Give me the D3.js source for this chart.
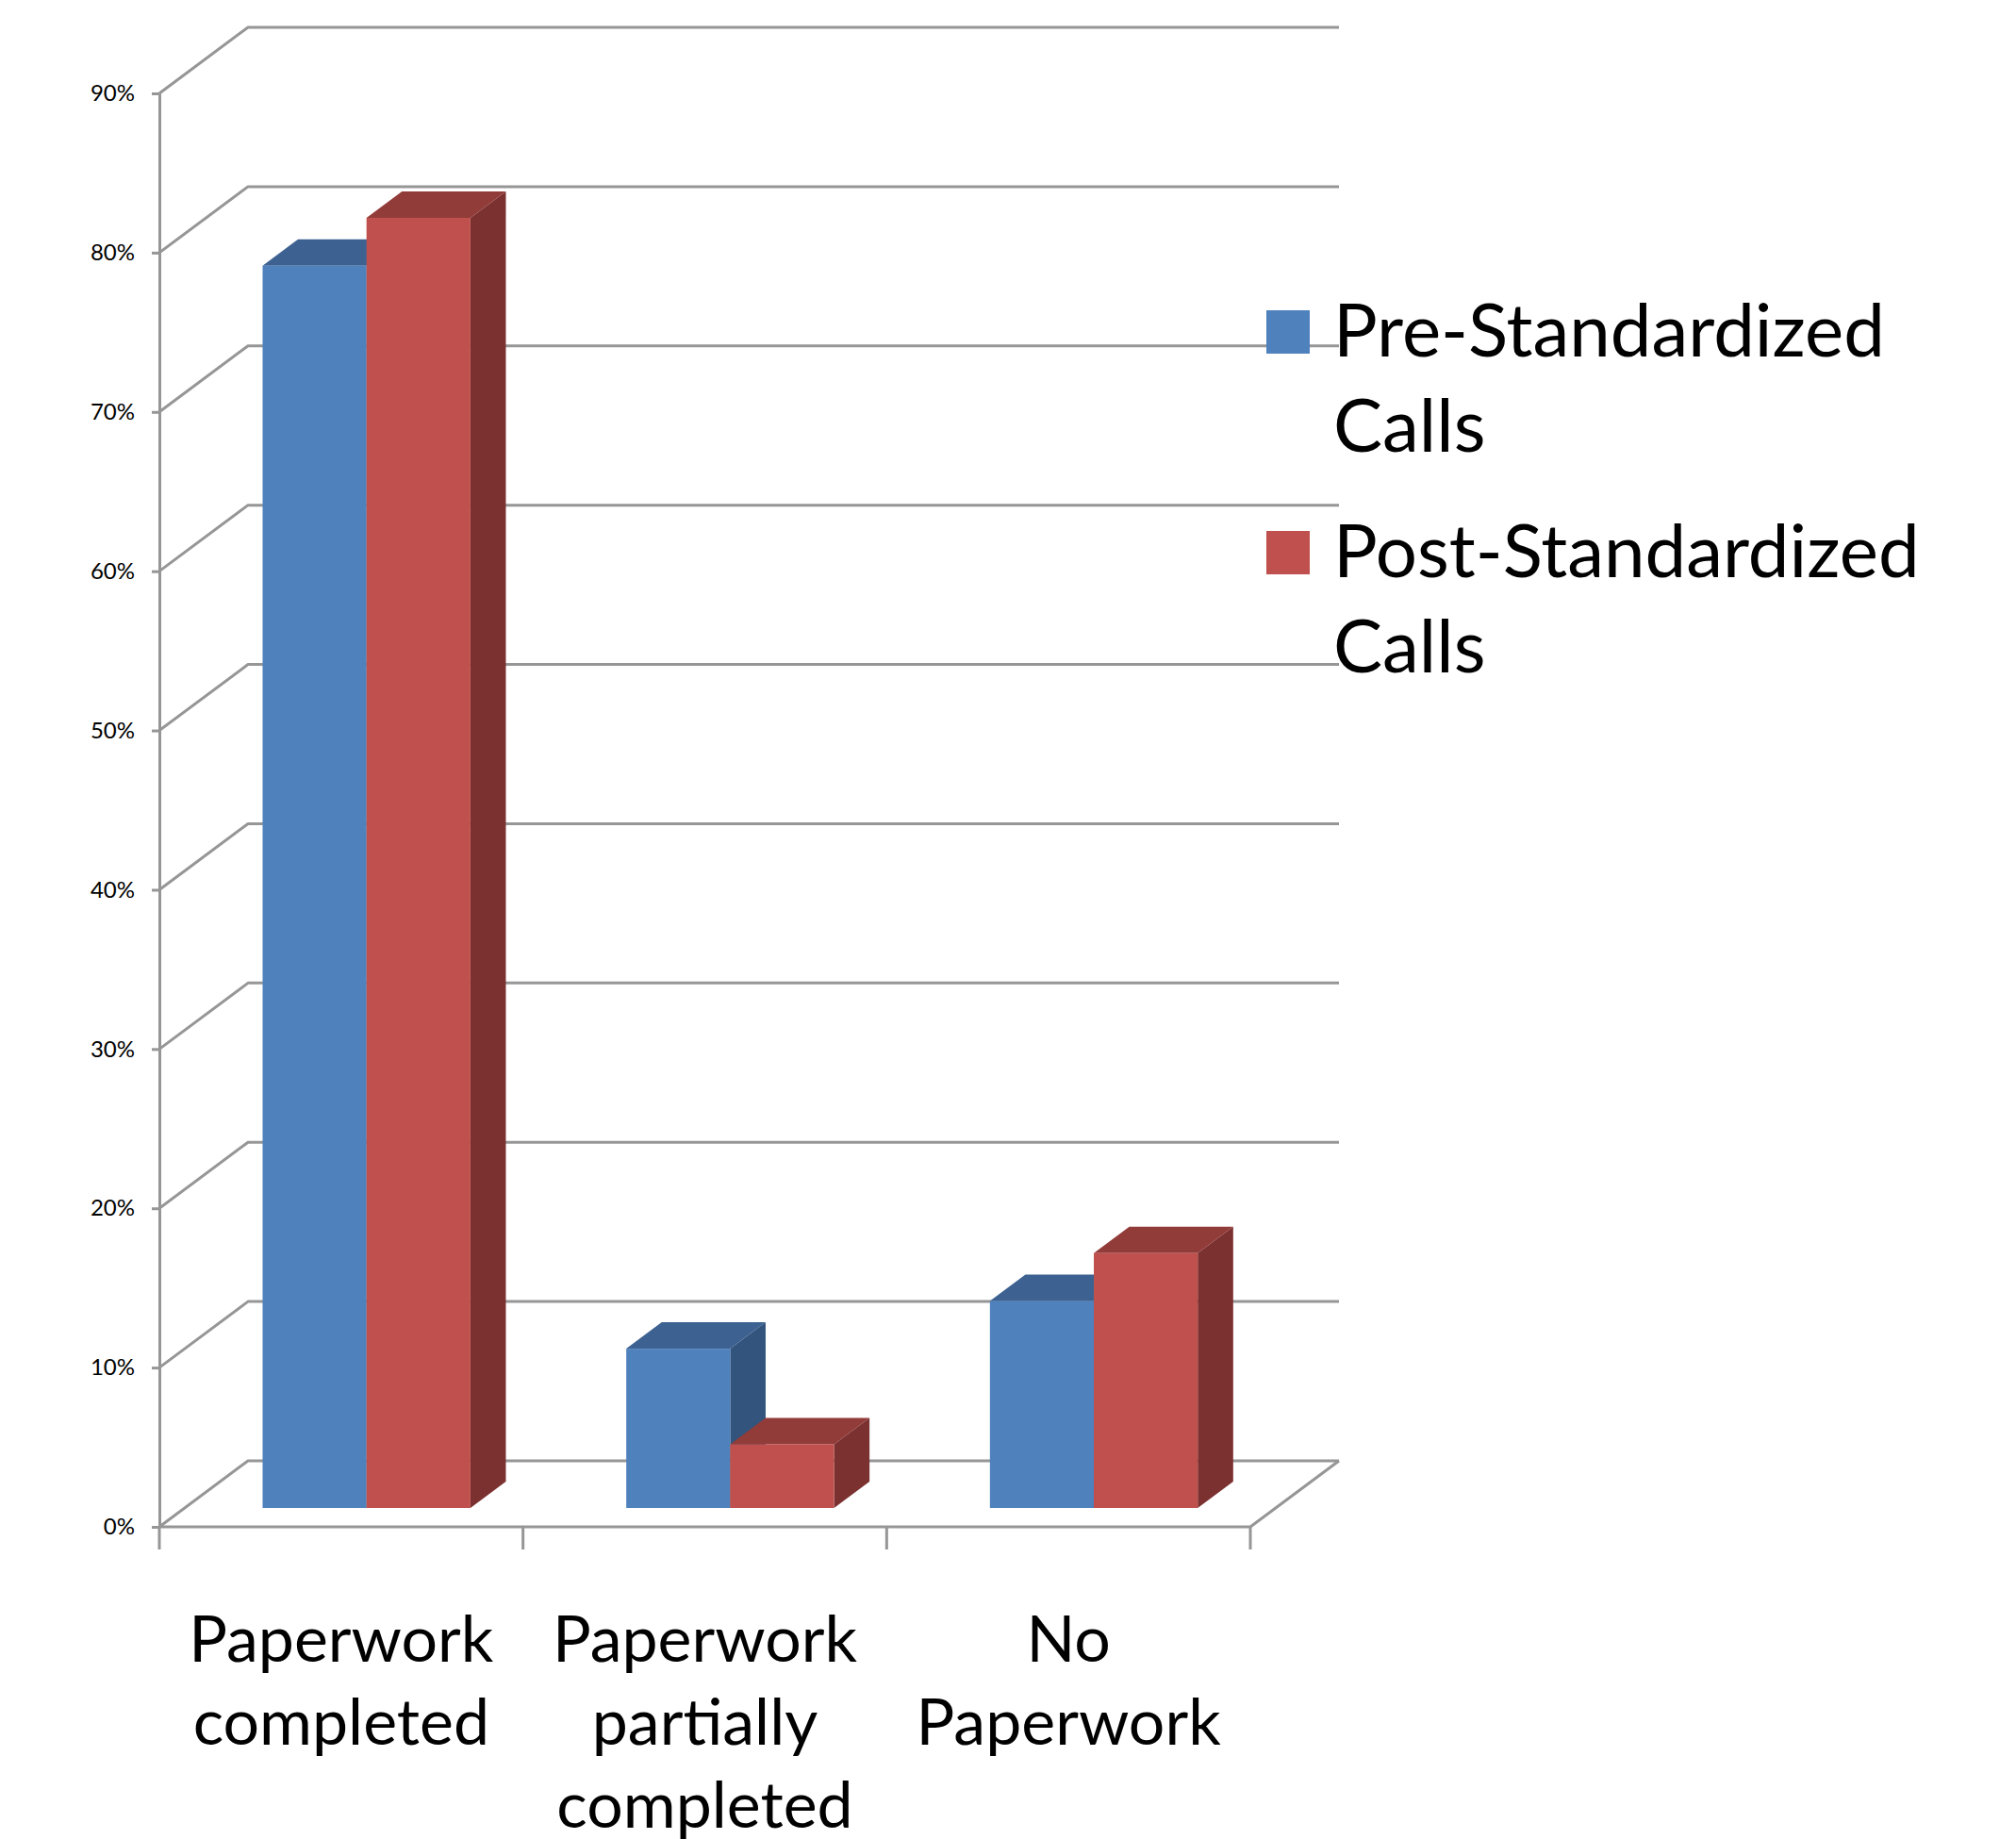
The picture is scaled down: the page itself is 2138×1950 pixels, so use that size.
<!DOCTYPE html>
<html>
<head>
<meta charset="utf-8">
<script src="https://cdn.jsdelivr.net/npm/d3@7"></script>
<style>
  html, body { margin: 0; padding: 0; background: #ffffff; }
  svg { display: block; }
  text { font-family: Lato, "Open Sans", "Noto Sans", sans-serif; fill: #000; }
</style>
</head>
<body>
<svg id="chart" width="2138" height="1950"></svg>
<script>
// Categories along the horizontal axis, with their wrapped label lines
const categories = ["Paperwork completed", "Paperwork partially completed", "No Paperwork"];
const categoryLines = [["Paperwork", "completed"], ["Paperwork", "partially", "completed"], ["No", "Paperwork"]];

// Series (percent of calls)
const seriesNames = ["Pre-Standardized Calls", "Post-Standardized Calls"];
const seriesLines = [["Pre-Standardized", "Calls"], ["Post-Standardized", "Calls"]];
const preValues = [78, 10, 13];
const postValues = [81, 4, 16];

// Value axis ticks
const yTickValues = [0, 10, 20, 30, 40, 50, 60, 70, 80, 90];
const yTickLabels = ["0%", "10%", "20%", "30%", "40%", "50%", "60%", "70%", "80%", "90%"];

const seriesValues = [preValues, postValues];
const faceColors = [
  { front: "#4f81bd", top: "#3d6291", side: "#32547d" },
  { front: "#c0504d", top: "#923c3a", side: "#7b3130" }
];
const gridColor = "#969696";

const svg = d3.select("#chart");

// Front plane of the 3-D box
const plot = { left: 169, right: 1326, bottom: 1619, top: 99 };
// Depth of the box (projected offset of the back wall)
const depth = { dx: 94, dy: -70 };
// Bars sit in the middle of the depth: front face offset and bar depth as fractions
const barFront = 0.2857, barDepth = 0.4;

const x = d3.scaleBand().domain(categories).range([plot.left, plot.right]).paddingInner(0).paddingOuter(0);
const xs = d3.scaleBand().domain(seriesNames).range([0, x.bandwidth()]).paddingInner(0).paddingOuter(0.75);
const y = d3.scaleLinear().domain([0, 90]).range([plot.bottom, plot.top]);

const grid = svg.append("g")
  .attr("fill", "none")
  .attr("stroke", gridColor)
  .attr("stroke-width", 3)
  .attr("stroke-linejoin", "round");

// Side wall diagonals and back wall gridlines
grid.selectAll("path.grid").data(yTickValues).join("path")
  .attr("class", "grid")
  .attr("d", t => {
    const yf = y(t);
    return `M${plot.left},${yf}L${plot.left + depth.dx},${yf + depth.dy}L${plot.right + depth.dx},${yf + depth.dy}`;
  });

// Floor: front edge and right edge
grid.append("path")
  .attr("d", `M${plot.left},${y(0)}L${plot.right},${y(0)}L${plot.right + depth.dx},${y(0) + depth.dy}`);

// Category boundary ticks below the floor
const boundaries = categories.map(c => x(c)).concat([x.range()[1]]);
grid.selectAll("line.xtick").data(boundaries).join("line")
  .attr("class", "xtick")
  .attr("x1", d => d).attr("x2", d => d)
  .attr("y1", y(0)).attr("y2", y(0) + 24);

// Value axis
const yAxis = d3.axisLeft(y)
  .tickValues(yTickValues)
  .tickFormat((d, i) => yTickLabels[i])
  .tickSizeInner(8)
  .tickSizeOuter(0)
  .tickPadding(18);

const yAxisG = svg.append("g")
  .attr("transform", `translate(${plot.left},0)`)
  .call(yAxis);
yAxisG.select(".domain").attr("stroke", gridColor).attr("stroke-width", 3);
yAxisG.selectAll(".tick line").attr("stroke", gridColor).attr("stroke-width", 3);
yAxisG.selectAll(".tick text")
  .attr("font-family", "Lato, 'Open Sans', sans-serif")
  .attr("font-size", 24)
  .attr("fill", "#000");

// 3-D bars: side, top, then front face; Pre before Post within each category
const bars = svg.append("g");
const fx = barFront * depth.dx, fy = barFront * depth.dy;
const bdx = barDepth * depth.dx, bdy = barDepth * depth.dy;

categories.forEach((cat, i) => {
  seriesNames.forEach((s, k) => {
    const v = seriesValues[k][i];
    const x0 = x(cat) + xs(s) + fx;
    const x1 = x0 + xs.bandwidth();
    const yt = y(v) + fy;
    const yb = y(0) + fy;
    const g = bars.append("g");
    g.append("path")
      .attr("fill", faceColors[k].side)
      .attr("d", `M${x1},${yt}L${x1 + bdx},${yt + bdy}L${x1 + bdx},${yb + bdy}L${x1},${yb}Z`);
    g.append("path")
      .attr("fill", faceColors[k].top)
      .attr("d", `M${x0},${yt}L${x1},${yt}L${x1 + bdx},${yt + bdy}L${x0 + bdx},${yt + bdy}Z`);
    g.append("rect")
      .attr("fill", faceColors[k].front)
      .attr("x", x0).attr("y", yt)
      .attr("width", x1 - x0).attr("height", yb - yt);
  });
});

// Category labels
const labels = svg.append("g")
  .attr("text-anchor", "middle")
  .attr("font-size", 68);
categories.forEach((cat, i) => {
  const t = labels.append("text")
    .attr("x", x(cat) + x.bandwidth() / 2)
    .attr("y", 1762);
  categoryLines[i].forEach((line, j) => {
    t.append("tspan")
      .attr("x", x(cat) + x.bandwidth() / 2)
      .attr("y", 1762 + j * 88)
      .text(line);
  });
});

// Legend
const legend = svg.append("g").attr("font-size", 78);
seriesNames.forEach((s, k) => {
  const top = 329 + k * 234;
  legend.append("rect")
    .attr("x", 1343).attr("y", top)
    .attr("width", 46).attr("height", 46)
    .attr("fill", faceColors[k].front);
  const t = legend.append("text").attr("x", 1414).attr("y", top + 49);
  seriesLines[k].forEach((line, j) => {
    t.append("tspan")
      .attr("x", 1414)
      .attr("y", top + 49 + j * 101)
      .text(line);
  });
});
</script>
</body>
</html>
